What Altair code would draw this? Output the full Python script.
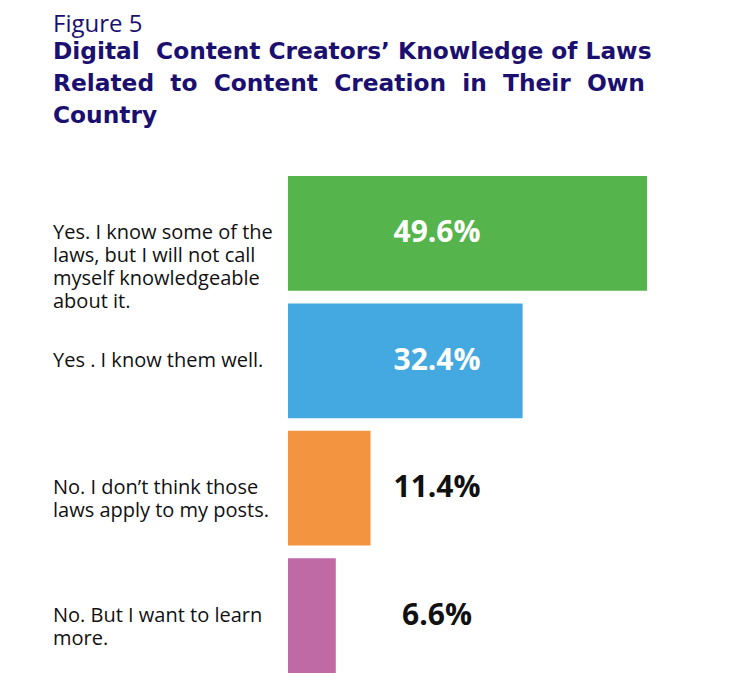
import altair as alt
import pandas as pd

categories = [
    "Yes. I know some of the\nlaws, but I will not call\nmyself knowledgeable\nabout it.",
    "Yes . I know them well.",
    "No. I don\u2019t think those\nlaws apply to my posts.",
    "No. But I want to learn\nmore.",
]
values = [49.6, 32.4, 11.4, 6.6]
value_labels = ["49.6%", "32.4%", "11.4%", "6.6%"]
bar_colors = ["#56B44C", "#43A9E0", "#F39540", "#BF69A5"]
label_colors = ["#FFFFFF", "#FFFFFF", "#111111", "#111111"]

df = pd.DataFrame({
    "category": categories,
    "value": values,
    "label": value_labels,
    "txtcolor": label_colors,
})

NAVY = "#1B1070"
FONT = "Open Sans"
SP2 = "\u00a0 "

y_enc = alt.Y("category:N", sort=categories, axis=None,
              scale=alt.Scale(paddingInner=0.1, paddingOuter=0))

base = alt.Chart(df)

bars = base.mark_bar().encode(
    y=y_enc,
    x=alt.X("value:Q", scale=alt.Scale(domain=[0, 50]), axis=None),
    color=alt.Color("category:N", scale=alt.Scale(domain=categories, range=bar_colors), legend=None),
)

vals = base.mark_text(fontSize=30, fontWeight="bold", font=FONT, align="center", baseline="middle").encode(
    y=y_enc,
    x=alt.value(149),
    text="label:N",
    color=alt.Color("txtcolor:N", scale=None),
)

cats = base.mark_text(align="left", baseline="middle", lineBreak="\n", lineHeight=23,
                      fontSize=20, font=FONT, color="#111111").encode(
    y=y_enc,
    x=alt.value(-235),
    text="category:N",
)

chart = alt.layer(bars, vals, cats).properties(
    width=362,
    height=497,
    autosize=alt.AutoSizeParams(type="none"),
    padding={"left": 280, "top": 168, "right": 80, "bottom": 0},
    title=alt.TitleParams(
        text="Figure 5",
        subtitle=["Digital" + SP2 + "Content Creators\u2019 Knowledge of Laws",
                  SP2.join(["Related", "to", "Content", "Creation", "in", "Their", "Own"]),
                  "Country"],
        anchor="start",
        frame="bounds",
        offset=49,
        font=FONT,
        fontSize=24,
        fontWeight="normal",
        color=NAVY,
        subtitleFont="DejaVu Sans",
        subtitleFontSize=23.3,
        subtitleFontWeight="bold",
        subtitleColor=NAVY,
        subtitleLineHeight=32,
        subtitlePadding=4,
    ),
).configure_view(stroke=None)

chart.save("out.html", embed_options={"renderer": "svg", "actions": False})
